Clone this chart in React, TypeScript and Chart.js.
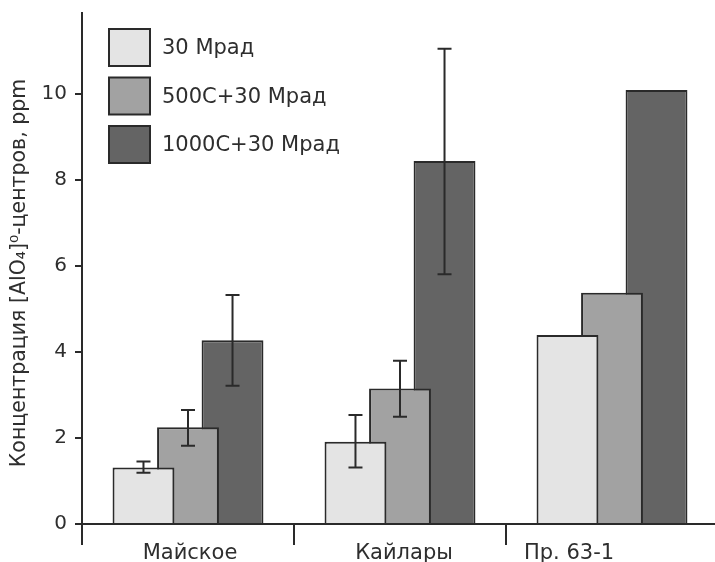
import React, { useEffect, useRef } from "react";
import { Chart, registerables } from "chart.js";
Chart.register(...registerables);

// ---- data ----
const categories = ["Майское", "Кайлары", "Пр. 63-1"];
const seriesLabels = ["30 Мрад", "500C+30 Мрад", "1000C+30 Мрад"];
const values30 = [1.31, 1.91, 4.39];
const values500 = [2.25, 3.15, 5.37];
const values1000 = [4.27, 8.43, 10.08];
const errLow30 = [1.19, 1.31, null];
const errHigh30 = [1.45, 2.53, null];
const errLow500 = [1.82, 2.49, null];
const errHigh500 = [2.65, 3.79, null];
const errLow1000 = [3.21, 5.8, null];
const errHigh1000 = [5.32, 11.04, null];
const yTicks = [0, 2, 4, 6, 8, 10];
const yMin = 0;
const yMax = 11.87;
const yTitle = "Концентрация [AlO₄]⁰-центров, ppm";

// ---- styles ----
const W = 718;
const VIEW_W = 715;
const H = 600;
const FONT = '"DejaVu Sans", sans-serif';
const TEXT = "#2e2e2e";
const AXIS = "#2a2a2a";
const fills = ["#e4e4e4", "#a2a2a2", "#646464"];
const labelShift = [2, 4, -43];

const errLows = [errLow30, errLow500, errLow1000];
const errHighs = [errHigh30, errHigh500, errHigh1000];

const errorBarPlugin = {
  id: "errorBars",
  afterDatasetsDraw(chart: any) {
    const { ctx } = chart;
    const y = chart.scales.y;
    ctx.save();
    ctx.strokeStyle = AXIS;
    ctx.lineWidth = 2;
    const cap = 7;
    errLows.forEach((lows, i) => {
      const meta = chart.getDatasetMeta(i);
      lows.forEach((lo, j) => {
        const hi = errHighs[i][j];
        if (lo == null || hi == null) return;
        const x = meta.data[j].x;
        const y1 = y.getPixelForValue(hi);
        const y2 = y.getPixelForValue(lo);
        ctx.beginPath();
        ctx.moveTo(x, y1);
        ctx.lineTo(x, y2);
        ctx.moveTo(x - cap, y1);
        ctx.lineTo(x + cap, y1);
        ctx.moveTo(x - cap, y2);
        ctx.lineTo(x + cap, y2);
        ctx.stroke();
      });
    });
    ctx.restore();
  },
};

const decorPlugin = {
  id: "decor",
  afterDraw(chart: any) {
    const { ctx, chartArea } = chart;
    const xs = chart.scales.x;
    ctx.save();
    // legend
    ctx.font = `21px ${FONT}`;
    ctx.textBaseline = "middle";
    ctx.textAlign = "left";
    chart.data.datasets.forEach((ds: any, i: number) => {
      const bx = chartArea.left + 27;
      const by = 29 + i * 48.5;
      ctx.fillStyle = ds.backgroundColor;
      ctx.fillRect(bx, by, 41, 37);
      ctx.strokeStyle = AXIS;
      ctx.lineWidth = 2;
      ctx.strokeRect(bx, by, 41, 37);
      ctx.fillStyle = TEXT;
      ctx.fillText(ds.label, bx + 53, by + 20);
    });
    // category labels
    ctx.font = `21px ${FONT}`;
    ctx.textAlign = "center";
    ctx.textBaseline = "alphabetic";
    categories.forEach((c, i) => {
      const x = xs.getPixelForValue(i) + labelShift[i];
      ctx.fillText(c, x, chartArea.bottom + 35);
    });
    // y title
    ctx.font = `20.5px ${FONT}`;
    ctx.translate(20, 273);
    ctx.rotate(-Math.PI / 2);
    ctx.textAlign = "center";
    ctx.textBaseline = "middle";
    ctx.fillText(yTitle, 0, 0);
    ctx.restore();
  },
};

export default function App() {
  const ref = useRef<HTMLCanvasElement | null>(null);
  useEffect(() => {
    if (!ref.current) return;
    const chart = new Chart(ref.current, {
      type: "bar",
      data: {
        labels: categories,
        datasets: [values30, values500, values1000].map((v, i) => ({
          label: seriesLabels[i],
          data: v,
          backgroundColor: fills[i],
          borderColor: AXIS,
          borderWidth: 2,
          categoryPercentage: 0.63,
          barPercentage: 1.39,
        })),
      },
      options: {
        responsive: false,
        animation: false,
        devicePixelRatio: 1,
        layout: { padding: { top: 13, left: 0, right: 0, bottom: 0 } },
        plugins: { legend: { display: false }, tooltip: { enabled: false }, title: { display: false } },
        scales: {
          x: {
            type: "category",
            offset: true,
            grid: {
              display: true,
              drawOnChartArea: false,
              drawTicks: true,
              tickLength: 21,
              offset: true,
              color: AXIS,
              lineWidth: 2,
            },
            border: { display: true, color: AXIS, width: 2 },
            ticks: { display: false },
            afterFit: (s: any) => {
              s.height = H - 524;
              s.paddingLeft = 0;
              s.paddingRight = 0;
            },
          },
          y: {
            min: yMin,
            max: yMax,
            grid: {
              display: true,
              drawOnChartArea: false,
              drawTicks: true,
              tickLength: 7,
              color: AXIS,
              lineWidth: 2,
            },
            border: { display: true, color: AXIS, width: 2 },
            ticks: { color: TEXT, font: { family: FONT, size: 20 }, padding: 8 },
            afterBuildTicks: (s: any) => {
              s.ticks = yTicks.map((v) => ({ value: v }));
            },
            afterFit: (s: any) => {
              s.width = 82;
              s.paddingTop = 0;
              s.paddingBottom = 0;
            },
          },
        },
      },
      plugins: [errorBarPlugin, decorPlugin],
    });
    return () => chart.destroy();
  }, []);
  return (
    <div style={{ position: "absolute", left: 0, top: 0, width: VIEW_W, height: 562, overflow: "hidden", background: "#fff" }}>
      <canvas ref={ref} width={W} height={H} style={{ display: "block" }} />
    </div>
  );
}
